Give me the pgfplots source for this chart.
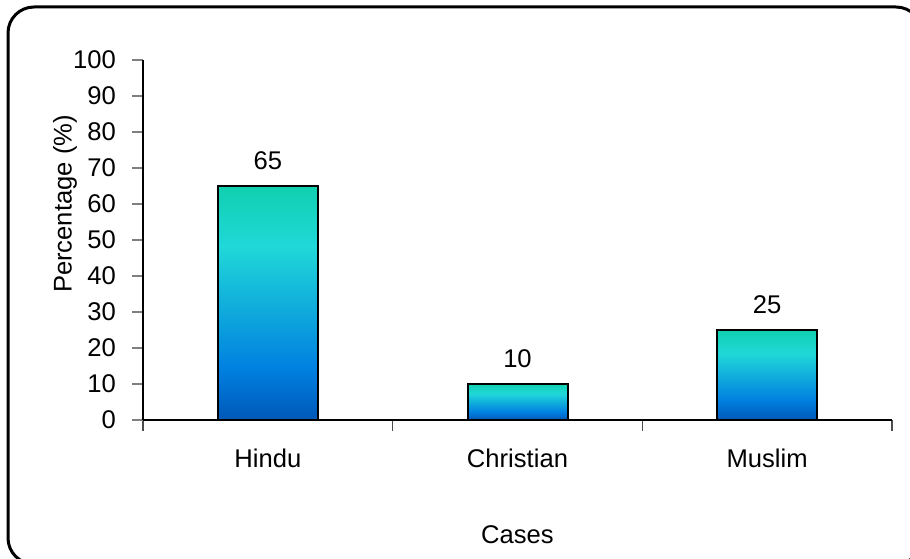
\documentclass[border=0pt]{standalone}
\usepackage{fontspec}
\setmainfont{Liberation Sans}
\usepackage{pgfplots}
\pgfplotsset{compat=1.18}
\definecolor{ctop}{HTML}{10D0B0}
\definecolor{ccyan}{HTML}{20D8D8}
\definecolor{cblue}{HTML}{0080E0}
\definecolor{cbot}{HTML}{0058B8}
\pgfdeclareverticalshading{barshade}{100bp}{color(0bp)=(cbot); color(25bp)=(cbot); color(36bp)=(cblue); color(62bp)=(ccyan); color(75bp)=(ctop); color(100bp)=(ctop)}
\pgfplotsset{mybar/.style={ybar, bar width=50pt, bar shift=0pt, draw=black, line width=1pt, shade, shading=barshade,
  nodes near coords,
  every node near coord/.append style={font=\fontsize{12.8}{15}\selectfont, text=black, yshift=4.5pt}}}
\begin{document}
\begin{tikzpicture}
\useasboundingbox (0,0) rectangle (455pt,279pt);
\clip (0,0) rectangle (455pt,279pt);
\draw[line width=1.5pt, rounded corners=13pt] (4pt,-3pt) rectangle (461pt,275.5pt);
\begin{axis}[
  at={(71.5pt,69pt)}, anchor=south west, scale only axis,
  width=374.5pt, height=180pt,
  xmin=0.5, xmax=3.5, ymin=0, ymax=100,
  axis x line*=bottom, axis y line*=left,
  axis line style={line width=0.75pt, black, -},
  tick align=outside,
  major tick length=5.5pt,
  ytick={0,10,...,100},
  xtick={0.5,1.5,2.5,3.5}, xticklabels={},
  ytick style={gray, line width=0.6pt},
  xtick style={black!70, line width=0.6pt},
  extra x ticks={1,2,3},
  extra x tick labels={Hindu,Christian,Muslim},
  extra x tick style={major tick length=0pt, tick style={draw=none},
    tick label style={anchor=base, yshift=-23.5pt}},
  /pgf/number format/assume math mode=true,
  tick label style={font=\fontsize{12.8}{15}\selectfont},
  yticklabel style={xshift=-4.5pt},
  label style={font=\fontsize{12.8}{15}\selectfont},
  xlabel={Cases},
  xlabel style={at={(axis description cs:0.5,-0.319)}, anchor=center},
  ylabel={Percentage (\%)},
  ylabel style={at={(axis description cs:-0.1041,0.6)}, anchor=center},
  clip=false,
]
\addplot[mybar] coordinates {(1,65)};
\addplot[mybar] coordinates {(2,10)};
\addplot[mybar] coordinates {(3,25)};
\end{axis}
\end{tikzpicture}
\end{document}
